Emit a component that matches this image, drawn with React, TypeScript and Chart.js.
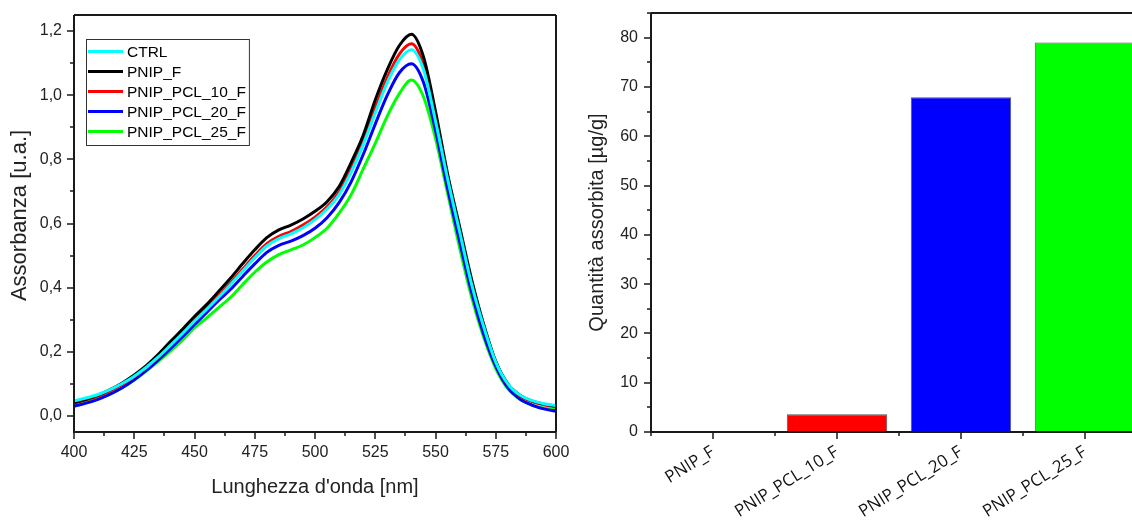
import React, { useEffect, useRef } from 'react';
import { Chart, registerables } from 'chart.js';
Chart.register(...registerables);

// ---------- Data (spectra) ----------
const WAVELENGTHS = [400,405,410,415,420,425,430,435,440,445,450,455,460,465,470,475,480,485,490,495,500,505,510,515,520,525,530,535,540,545,550,555,560,565,570,575,580,585,590,595,600];
const CTRL = [.047,.056,.067,.082,.101,.124,.152,.184,.22,.257,.296,.332,.37,.41,.452,.493,.53,.553,.568,.587,.612,.645,.69,.76,.845,.945,1.04,1.11,1.142,1.08,.92,.74,.575,.41,.278,.168,.1,.065,.048,.038,.032];
const PNIP_F = [.042,.052,.065,.082,.103,.128,.157,.192,.232,.27,.31,.347,.388,.43,.475,.518,.556,.58,.595,.614,.638,.668,.715,.79,.875,.985,1.08,1.155,1.19,1.12,.95,.755,.59,.425,.285,.17,.1,.065,.047,.037,.031];
const PNIP_PCL_10_F = [.04,.05,.062,.078,.098,.122,.151,.184,.222,.26,.3,.337,.375,.415,.458,.5,.537,.56,.575,.595,.62,.652,.698,.77,.855,.96,1.055,1.128,1.16,1.095,.93,.745,.58,.415,.28,.167,.098,.062,.045,.035,.028];
const PNIP_PCL_20_F = [.03,.04,.052,.068,.088,.113,.142,.175,.21,.247,.285,.322,.36,.395,.435,.474,.51,.532,.545,.562,.585,.618,.665,.73,.815,.91,1.0,1.07,1.098,1.04,.89,.71,.545,.385,.255,.155,.088,.053,.034,.022,.015];
const PNIP_PCL_25_F = [.035,.043,.054,.069,.088,.112,.14,.17,.202,.236,.275,.305,.338,.37,.41,.448,.48,.503,.518,.533,.556,.585,.632,.69,.77,.85,.935,1.005,1.047,.995,.865,.695,.525,.37,.245,.148,.085,.052,.034,.024,.018];
const SERIES_LABELS = ['CTRL', 'PNIP_F', 'PNIP_PCL_10_F', 'PNIP_PCL_20_F', 'PNIP_PCL_25_F'];
const SERIES_VALUES = [CTRL, PNIP_F, PNIP_PCL_10_F, PNIP_PCL_20_F, PNIP_PCL_25_F];
const SERIES_COLORS = ['#00FFFF', '#000000', '#FF0000', '#0000FF', '#00FF00'];
const X_TICKS = [400, 425, 450, 475, 500, 525, 550, 575, 600];
const Y_TICKS_LEFT = [0, 0.2, 0.4, 0.6, 0.8, 1.0, 1.2];

// ---------- Data (bars) ----------
const BAR_CATEGORIES = ['PNIP_F', 'PNIP_PCL_10_F', 'PNIP_PCL_20_F', 'PNIP_PCL_25_F'];
const BAR_VALUES = [0, 3.6, 67.9, 79.0];
const BAR_COLORS = ['#000000', '#FF0000', '#0000FF', '#00FF00'];
const Y_TICKS_RIGHT = [0, 10, 20, 30, 40, 50, 60, 70, 80];

const SANS = '"Liberation Sans", Arial, sans-serif';
const AXIS_COLOR = '#1a1a1a';
const TEXT_COLOR = '#222';

function mids(arr: number[]) {
  const out: number[] = [];
  for (let i = 0; i < arr.length - 1; i++) out.push((arr[i] + arr[i + 1]) / 2);
  return out;
}

function noPad(s: any) {
  s.paddingLeft = 0;
  s.paddingRight = 0;
  s.paddingTop = 0;
  s.paddingBottom = 0;
}

function drawFrameAndTicks(chart: any, xMajor: number[], xMinor: number[], yMajor: number[], yMinor: number[], frameRight: boolean) {
  const { ctx, chartArea } = chart;
  const xs = chart.scales.x;
  const ys = chart.scales.y;
  ctx.save();
  ctx.strokeStyle = AXIS_COLOR;
  ctx.lineWidth = 2;
  ctx.beginPath();
  ctx.moveTo(chartArea.left, chartArea.top);
  ctx.lineTo(chartArea.left, chartArea.bottom);
  ctx.lineTo(chartArea.right, chartArea.bottom);
  ctx.moveTo(chartArea.left, chartArea.top);
  ctx.lineTo(chartArea.right, chartArea.top);
  if (frameRight) {
    ctx.moveTo(chartArea.right, chartArea.top);
    ctx.lineTo(chartArea.right, chartArea.bottom);
  }
  ctx.stroke();
  ctx.lineWidth = 1.5;
  ctx.beginPath();
  const b = chartArea.bottom;
  const l = chartArea.left;
  xMajor.forEach((v) => { const p = Math.round(xs.getPixelForValue(v)); ctx.moveTo(p, b); ctx.lineTo(p, b + 7); });
  xMinor.forEach((v) => { const p = Math.round(xs.getPixelForValue(v)); ctx.moveTo(p, b); ctx.lineTo(p, b + 4); });
  yMajor.forEach((v) => { const p = Math.round(ys.getPixelForValue(v)); ctx.moveTo(l, p); ctx.lineTo(l - 7, p); });
  yMinor.forEach((v) => { const p = Math.round(ys.getPixelForValue(v)); ctx.moveTo(l, p); ctx.lineTo(l - 4, p); });
  ctx.stroke();
  ctx.restore();
}

function SpectraChart() {
  const ref = useRef<HTMLCanvasElement | null>(null);
  useEffect(() => {
    if (!ref.current) return;
    const decor = {
      id: 'decorLeft',
      afterDraw(chart: any) {
        const { ctx, chartArea } = chart;
        drawFrameAndTicks(chart, X_TICKS, mids(X_TICKS), Y_TICKS_LEFT, mids(Y_TICKS_LEFT), true);
        // axis titles
        ctx.save();
        ctx.fillStyle = TEXT_COLOR;
        ctx.font = `20px ${SANS}`;
        ctx.textAlign = 'center';
        ctx.textBaseline = 'middle';
        ctx.fillText("Lunghezza d'onda [nm]", (chartArea.left + chartArea.right) / 2, 487);
        ctx.font = `22px ${SANS}`;
        ctx.translate(20, (chartArea.top + chartArea.bottom) / 2 - 8);
        ctx.rotate(-Math.PI / 2);
        ctx.fillText('Assorbanza [u.a.]', 0, 0);
        ctx.restore();
        // legend
        ctx.save();
        const bx = chartArea.left + 12;
        const by = chartArea.top + 24;
        const rowH = 20;
        ctx.font = `15.5px ${SANS}`;
        let maxW = 0;
        SERIES_LABELS.forEach((s) => { maxW = Math.max(maxW, ctx.measureText(s).width); });
        const bw = 41 + maxW + 3;
        const bh = rowH * SERIES_LABELS.length + 6;
        ctx.fillStyle = '#fff';
        ctx.fillRect(bx, by, bw, bh);
        ctx.strokeStyle = '#333';
        ctx.lineWidth = 1;
        ctx.strokeRect(bx + 0.5, by + 0.5, bw, bh);
        SERIES_LABELS.forEach((s, i) => {
          const cy = by + 12.5 + i * rowH;
          ctx.strokeStyle = SERIES_COLORS[i];
          ctx.lineWidth = 3;
          ctx.beginPath();
          ctx.moveTo(bx + 2, cy);
          ctx.lineTo(bx + 37, cy);
          ctx.stroke();
          ctx.fillStyle = '#000';
          ctx.textAlign = 'left';
          ctx.textBaseline = 'middle';
          ctx.fillText(s, bx + 41, cy + 1);
        });
        ctx.restore();
      },
    };
    const chart = new Chart(ref.current, {
      type: 'line',
      data: {
        datasets: SERIES_LABELS.map((label, i) => ({
          label,
          data: WAVELENGTHS.map((w, j) => ({ x: w, y: SERIES_VALUES[i][j] })),
          borderColor: SERIES_COLORS[i],
          backgroundColor: SERIES_COLORS[i],
          borderWidth: 3,
          pointRadius: 0,
          cubicInterpolationMode: 'monotone',
          fill: false,
        })),
      },
      options: {
        responsive: false,
        animation: false,
        layout: { padding: { left: 0, right: 14, top: 15, bottom: 0 } },
        plugins: { legend: { display: false }, tooltip: { enabled: false } },
        scales: {
          x: {
            type: 'linear',
            min: 400,
            max: 600,
            afterBuildTicks: (s: any) => { s.ticks = X_TICKS.map((v) => ({ value: v })); },
            afterFit: (s: any) => { s.height = 93; noPad(s); },
            grid: { display: false, drawTicks: false },
            border: { display: false },
            ticks: { color: TEXT_COLOR, font: { family: SANS, size: 16 }, padding: 11, maxRotation: 0, autoSkip: false },
          },
          y: {
            type: 'linear',
            min: -0.05,
            max: 1.25,
            afterBuildTicks: (s: any) => { s.ticks = Y_TICKS_LEFT.map((v) => ({ value: v })); },
            afterFit: (s: any) => { s.width = 74; noPad(s); },
            grid: { display: false, drawTicks: false },
            border: { display: false },
            ticks: {
              color: TEXT_COLOR,
              font: { family: SANS, size: 16 },
              padding: 12,
              callback: (v: any) => Number(v).toFixed(1).replace('.', ','),
            },
          },
        },
      } as any,
      plugins: [decor],
    });
    return () => chart.destroy();
  }, []);
  return <canvas ref={ref} width={570} height={525} style={{ position: 'absolute', left: 0, top: 0 }} />;
}

function BarChart() {
  const ref = useRef<HTMLCanvasElement | null>(null);
  useEffect(() => {
    if (!ref.current) return;
    const decor = {
      id: 'decorRight',
      afterDraw(chart: any) {
        const { ctx, chartArea } = chart;
        const n = BAR_CATEGORIES.length;
        const idx = BAR_CATEGORIES.map((_, i) => i);
        const bounds: number[] = [];
        for (let i = 0; i <= n; i++) bounds.push(i - 0.5);
        drawFrameAndTicks(chart, idx, bounds, Y_TICKS_RIGHT, Y_TICKS_RIGHT.map((v) => v + 5), false);
        ctx.save();
        ctx.fillStyle = TEXT_COLOR;
        ctx.font = `20px ${SANS}`;
        ctx.textAlign = 'center';
        ctx.textBaseline = 'middle';
        ctx.translate(27, (chartArea.top + chartArea.bottom) / 2);
        ctx.rotate(-Math.PI / 2);
        ctx.fillText('Quantità assorbita [µg/g]', 0, 0);
        ctx.restore();
      },
    };
    const chart = new Chart(ref.current, {
      type: 'bar',
      data: {
        labels: BAR_CATEGORIES,
        datasets: [{
          data: BAR_VALUES,
          backgroundColor: BAR_COLORS,
          borderColor: '#555',
          borderWidth: 1,
          barPercentage: 0.81,
          categoryPercentage: 1,
        }],
      },
      options: {
        responsive: false,
        animation: false,
        layout: { padding: { left: 0, right: 3, top: 13, bottom: 0 } },
        plugins: { legend: { display: false }, tooltip: { enabled: false } },
        scales: {
          x: {
            afterFit: (s: any) => { s.height = 93; noPad(s); },
            grid: { display: false, drawTicks: false },
            border: { display: false },
            ticks: { color: '#111', font: { family: '"Open Sans", sans-serif', size: 17 }, padding: 10, minRotation: 32, maxRotation: 32, autoSkip: false },
          },
          y: {
            type: 'linear',
            min: 0,
            max: 85,
            afterBuildTicks: (s: any) => { s.ticks = Y_TICKS_RIGHT.map((v) => ({ value: v })); },
            afterFit: (s: any) => { s.width = 81; noPad(s); },
            grid: { display: false, drawTicks: false },
            border: { display: false },
            ticks: { color: TEXT_COLOR, font: { family: SANS, size: 16 }, padding: 13 },
          },
        },
      } as any,
      plugins: [decor],
    });
    return () => chart.destroy();
  }, []);
  return <canvas ref={ref} width={580} height={525} style={{ position: 'absolute', left: 570, top: 0 }} />;
}

export default function App() {
  return (
    <div style={{ position: 'fixed', left: 0, top: 0, width: 1132, height: 525, overflow: 'hidden', background: '#fff' }}>
      <SpectraChart />
      <BarChart />
    </div>
  );
}
